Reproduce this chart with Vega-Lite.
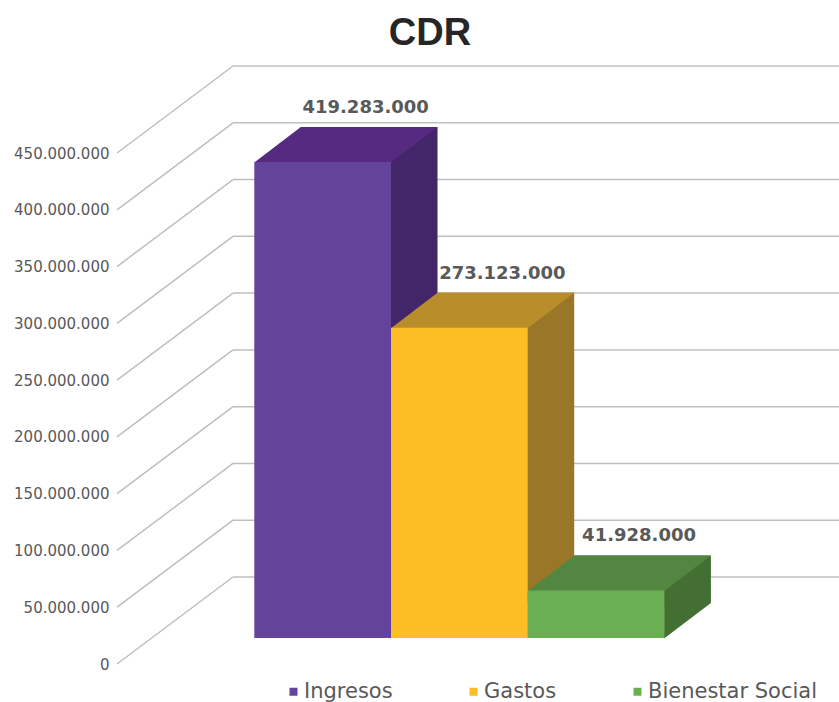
{
  "$schema": "https://vega.github.io/schema/vega-lite/v6.json",
  "width": 722,
  "height": 511,
  "autosize": {"type": "none"},
  "padding": {"left": 117, "top": 127, "right": 0, "bottom": 64},
  "background": "white",
  "title": {"text": "CDR", "font": "Liberation Sans", "fontSize": 38, "fontWeight": "bold", "color": "#262626", "anchor": "middle", "frame": "group", "dx": -48, "offset": 12},
  "config": {
    "view": {"stroke": null},
    "locale": {"number": {"decimal": ",", "thousands": ".", "grouping": [3], "currency": ["", " €"]}}
  },
  "datasets": {
    "ticks": [{"v": 0}, {"v": 50000000}, {"v": 100000000}, {"v": 150000000}, {"v": 200000000}, {"v": 250000000}, {"v": 300000000}, {"v": 350000000}, {"v": 400000000}, {"v": 450000000}],
    "cdr": [
      {"cat": "Ingresos", "value": 419283000},
      {"cat": "Gastos", "value": 273123000},
      {"cat": "Bienestar Social", "value": 41928000}
    ]
  },
  "layer": [
    {
      "data": {"name": "ticks"},
      "mark": {"type": "rule", "color": "#BFBFBF", "strokeWidth": 1.5, "yOffset": 26, "y2Offset": -61, "xOffset": -205.65, "x2Offset": -89.65},
      "encoding": {
        "x": {"datum": "Ingresos", "type": "nominal", "scale": {"type": "band", "domain": ["Ingresos", "Gastos", "Bienestar Social"], "paddingInner": 0, "paddingOuter": 0, "range": [137.3, 547.4]}, "axis": null},
        "x2": {"datum": "Ingresos"},
        "y": {
          "field": "v", "type": "quantitative", "scale": {"domain": [0, 450000000], "nice": false},
          "axis": {
            "values": [0, 50000000, 100000000, 150000000, 200000000, 250000000, 300000000, 350000000, 400000000, 450000000],
            "format": ",.0f", "title": null, "grid": false, "domain": false, "ticks": false,
            "labelPadding": 8, "labelOffset": 26, "labelFont": "DejaVu Sans", "labelFontSize": 15,
            "labelColor": "#595959"
          }
        },
        "y2": {"field": "v"}
      }
    },
    {
      "data": {"name": "ticks"},
      "mark": {"type": "rule", "color": "#BFBFBF", "strokeWidth": 1.5, "yOffset": -61, "y2Offset": -61, "xOffset": -89.65, "x2Offset": 242.95},
      "encoding": {
        "x": {"datum": "Ingresos", "type": "nominal"},
        "x2": {"datum": "Bienestar Social"},
        "y": {"field": "v", "type": "quantitative"},
        "y2": {"field": "v"}
      }
    },
    {
      "data": {"name": "cdr"},
      "mark": {"type": "bar", "xOffset": 46.5, "yOffset": -35, "y2Offset": -35},
      "encoding": {
        "x": {"field": "cat", "type": "nominal", "sort": null},
        "y": {"field": "value", "type": "quantitative"},
        "y2": {"datum": 0},
        "color": {"condition": [{"test": "datum.cat === 'Ingresos'", "value": "#43256A"}, {"test": "datum.cat === 'Gastos'", "value": "#9A7728"}], "value": "#436F33"}
      }
    },
    {
      "data": {"name": "cdr"},
      "mark": {"type": "point", "filled": true, "opacity": 1, "size": 4, "strokeWidth": 0, "shape": "M68,0.5 L68,-35 L114.85,-35 Z"},
      "encoding": {
        "x": {"field": "cat", "type": "nominal", "sort": null},
        "y": {"datum": 0, "type": "quantitative"},
        "color": {"condition": [{"test": "datum.cat === 'Ingresos'", "value": "#43256A"}, {"test": "datum.cat === 'Gastos'", "value": "#9A7728"}], "value": "#436F33"}
      }
    },
    {
      "data": {"name": "cdr"},
      "mark": {"type": "point", "filled": true, "opacity": 1, "size": 4, "strokeWidth": 0, "shape": "M-68.35,0.5 L68.35,0.5 L114.85,-35 L-21.85,-35 Z"},
      "encoding": {
        "x": {"field": "cat", "type": "nominal", "sort": null},
        "y": {"field": "value", "type": "quantitative"},
        "color": {"condition": [{"test": "datum.cat === 'Ingresos'", "value": "#552A80"}, {"test": "datum.cat === 'Gastos'", "value": "#B98E2A"}], "value": "#538640"}
      }
    },
    {
      "data": {"name": "cdr"},
      "mark": {"type": "bar"},
      "encoding": {
        "x": {"field": "cat", "type": "nominal", "sort": null},
        "y": {"field": "value", "type": "quantitative"},
        "y2": {"datum": 0},
        "color": {
          "field": "cat", "type": "nominal", "sort": null,
          "scale": {"domain": ["Ingresos", "Gastos", "Bienestar Social"], "range": ["#64439A", "#FDBD25", "#6AB052"]},
          "legend": {
            "orient": "none", "legendX": 166, "legendY": 554, "direction": "horizontal", "columns": 3,
            "title": null, "symbolType": "square", "symbolSize": 64, "symbolStrokeWidth": 0,
            "labelFont": "DejaVu Sans", "labelFontSize": 21, "labelColor": "#595959", "labelLimit": 0,
            "columnPadding": 70, "labelOffset": 0, "padding": 0
          }
        }
      }
    },
    {
      "data": {"name": "cdr"},
      "mark": {"type": "text", "font": "DejaVu Sans", "fontSize": 18, "fontWeight": "bold", "color": "#595959", "xOffset": 43, "yOffset": -54, "baseline": "middle"},
      "encoding": {
        "x": {"field": "cat", "type": "nominal", "sort": null},
        "y": {"field": "value", "type": "quantitative"},
        "text": {"field": "value", "type": "quantitative", "format": ","}
      }
    }
  ]
}
